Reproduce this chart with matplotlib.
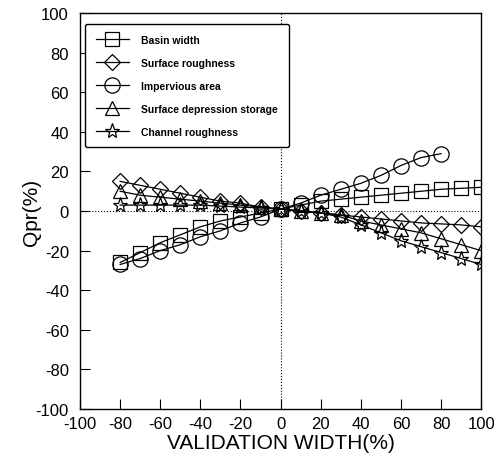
import numpy as np
import matplotlib
matplotlib.use("Agg")
import matplotlib.pyplot as plt

plt.rcParams['font.family'] = ['Liberation Sans', 'DejaVu Sans']
plt.rcParams['axes.unicode_minus'] = False

x_full = [-80, -70, -60, -50, -40, -30, -20, -10, 0, 10, 20, 30, 40, 50, 60, 70, 80, 90, 100]
x_imp = [-80, -70, -60, -50, -40, -30, -20, -10, 0, 10, 20, 30, 40, 50, 60, 70, 80]

basin = [-26, -21, -16, -12, -8, -5, -3, -1, 1, 3, 5, 6, 7, 8, 9, 10, 11, 11.5, 12]
surf_rough = [15, 13, 11, 9, 7, 5, 4, 2, 1, 0, -1, -2, -3, -4, -5, -6, -6.5, -7, -8]
impervious = [-27, -24, -20, -17, -13, -10, -6, -3, 1, 4, 8, 11, 14, 18, 23, 27, 29]
depression = [10, 8, 7, 6, 5, 4, 3, 2, 1, 0, -1, -2, -5, -7, -9, -11, -14, -17, -20]
channel = [3, 3, 3, 3, 3, 2.5, 2, 1.5, 1, 0, -1, -3, -7, -11, -15, -18, -21, -24, -27]

labels = ['Basin width', 'Surface roughness', 'Impervious area',
          'Surface depression storage', 'Channel roughness']

fig = plt.figure(figsize=(4.94, 4.56), dpi=100)
ax = fig.add_axes([0.162, 0.101, 0.812, 0.868])

kw = dict(color='black', lw=0.9, mfc='none', mec='black', mew=0.9)
ax.plot(x_full, basin, marker='s', ms=10, label=labels[0], **kw)
ax.plot(x_full, surf_rough, marker='D', ms=8, label=labels[1], **kw)
ax.plot(x_imp, impervious, marker='o', ms=11, label=labels[2], **kw)
ax.plot(x_full, depression, marker='^', ms=10, label=labels[3], **kw)
ax.plot(x_full, channel, marker='*', ms=11, label=labels[4], **kw)

ax.axhline(0, color='black', lw=0.8, ls=':')
ax.axvline(0, color='black', lw=0.8, ls=':')

ax.set_xlim(-100, 100)
ax.set_ylim(-100, 100)
ax.set_xticks(np.arange(-100, 101, 20))
ax.set_yticks(np.arange(-100, 101, 20))
ax.tick_params(direction='in', length=7, labelsize=12, top=False, right=False)
ax.tick_params(axis='x', pad=5)
ax.tick_params(axis='y', pad=8)
for s in ax.spines.values():
    s.set_linewidth(1.0)

ax.set_xlabel('VALIDATION WIDTH(%)', fontsize=15, va='center')
ax.xaxis.set_label_coords(0.5, -0.085)
ax.set_ylabel('Qpr(%)', fontsize=15, va='center')
ax.yaxis.set_label_coords(-0.12, 0.5)

leg = ax.legend(loc='upper left', bbox_to_anchor=(0.0, 0.985),
                frameon=True, fancybox=True, edgecolor='black',
                handlelength=3.2, labelspacing=1.25, borderpad=1.0,
                handletextpad=1.2, prop={'weight': 'bold', 'size': 7.5})
leg.get_frame().set_linewidth(1.0)
leg.get_frame().set_alpha(1)

fig.savefig('out.png', dpi=100)
